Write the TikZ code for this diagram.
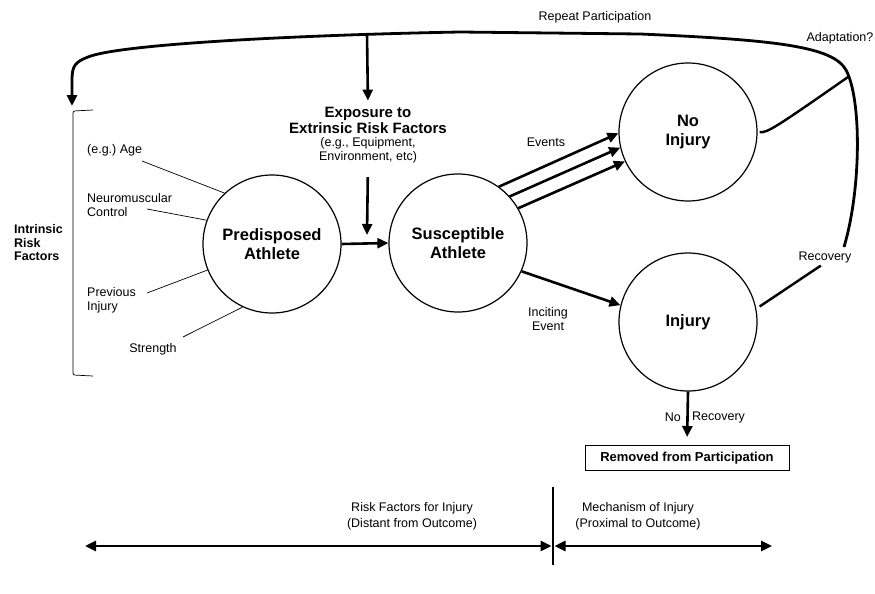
\documentclass[tikz,border=0pt]{standalone}
\usepackage{fontspec}
\setmainfont{Liberation Sans}
\usetikzlibrary{arrows.meta}
\newcommand{\smalltxt}{\fontsize{12.5}{14}\selectfont}
\newcommand{\bigbold}{\fontsize{16.5}{19}\selectfont\bfseries}

\begin{document}
\begin{tikzpicture}[x=1pt, y=-1pt,
        >={Triangle[length=11pt,width=10pt]},
        stage/.style={circle, draw, line width=1.2pt, minimum size=138pt, inner sep=0pt, align=center, font=\bigbold},
        lbl/.style={inner sep=0pt, align=left, font=\smalltxt},
        arr/.style={->, line width=2.6pt},
        link/.style={line width=2.4pt},
        feeler/.style={line width=0.7pt}]
        \useasboundingbox (0,0) rectangle (875,594);

        % the four stages
        \node[stage] (pred) at (272,244) {Predisposed\\Athlete};
        \node[stage] (susc) at (458,243) {Susceptible\\Athlete};
        \node[stage] (noinj) at (688,132) {No\\Injury};
        \node[stage] (inj) at (688,322) {Injury};
        \node[draw, line width=1pt, minimum width=204pt, minimum height=25pt, inner sep=0pt,
            font=\fontsize{13}{15}\selectfont\bfseries] (removed) at (687,458) {Removed from Participation};

        % intrinsic factors
        \node[lbl, anchor=west, font=\fontsize{12.5}{13.5}\selectfont\bfseries] (intr) at (14,243) {Intrinsic\\Risk\\Factors};
        \node[lbl, anchor=west] (age) at (87,150) {(e.g.)\ Age};
        \node[lbl, anchor=west] (neuro) at (87,205) {Neuromuscular\\Control};
        \node[lbl, anchor=west] (prev) at (87,300) {Previous\\Injury};
        \node[lbl] (stren) at (153,349) {Strength};
        \coordinate (ageA) at (142,161);
        \coordinate (neuroA) at (147,209);
        \coordinate (prevA) at (147,293);
        \coordinate (strenA) at (183,337);
        \draw[feeler] (ageA) -- (pred.133);
        \draw[feeler] (neuroA) -- (pred.160);
        \draw[feeler] (prevA) -- (pred.202);
        \draw[feeler] (strenA) -- (pred.245);
        \draw[feeler, rounded corners=2pt] (93,110) -- (73,111) -- (73,375) -- (93,376);

        % extrinsic factors
        \node[lbl, align=center, font=\fontsize{15}{16}\selectfont\bfseries] (exptitle) at (368,120) {Exposure to\\Extrinsic Risk Factors};
        \node[lbl, align=center] (expsub) at (368,150) {(e.g., Equipment,\\Environment, etc)};
        \coordinate (expend) at (367,235);
        \draw[arr, shorten <=14pt] (expsub.south) -- (expend);

        % main flow
        \draw[arr] (pred.east) -- (susc.west);
        \draw[arr] (susc.54) -- (noinj.181);
        \draw[arr] (susc.42) -- (noinj.193);
        \draw[arr] (susc.30) -- (noinj.205);
        \node[lbl] (events) at (546,142) {Events};
        \draw[arr] (susc.336) -- (inj.166);
        \node[lbl, align=center] (incite) at (548,319) {Inciting\\Event};
        \draw[arr, shorten >=8pt] (inj.south) -- (removed.north);
        \node[lbl, anchor=east] (norec1) at (681,417) {No};
        \node[lbl, anchor=west] (norec2) at (692,417) {Recovery};

        % repeat participation loop
        \coordinate (loopstart) at (844,247);
        \coordinate (looptip) at (72,106);
        \coordinate (topjoin) at (367,34);
        \coordinate (adaptjoin) at (848,77);
        \draw[arr, line width=2.8pt] (loopstart) .. controls (861,190) and (862,100) .. (846,70)
            .. controls (833,47) and (780,40) .. (640,34) -- (460,32)
            .. controls (300,35) and (120,44) .. (88,57)
            .. controls (75,62) and (72,66) .. (72,80) -- (looptip);
        \draw[arr, shorten >=6pt] (topjoin) -- (exptitle.north);
        \node[lbl] (repeat) at (595,17) {Repeat Participation};
        \node[lbl] (adapt) at (840,38) {Adaptation?};
        \draw[link, shorten <=2pt] (noinj.east) .. controls (767,133) and (775,128) .. (adaptjoin);
        \node[lbl] (recov) at (825,257) {Recovery};
        \draw[link, shorten <=4pt, shorten >=5pt] (inj.11) -- (recov.south);

        % time line
        \coordinate (divtop) at (553,487);
        \coordinate (divbot) at (553,565);
        \coordinate (tlmid) at (553,546);
        \coordinate (tlL) at (85,546);
        \coordinate (tlR) at (772,546);
        \draw[line width=2.6pt] (divtop) -- (divbot);
        \draw[<->, line width=2.6pt, shorten >=1.5pt] (tlL) -- (tlmid);
        \draw[<->, line width=2.6pt, shorten <=1.5pt] (tlmid) -- (tlR);
        \node[lbl, align=center, font=\fontsize{12.5}{16}\selectfont] (distant) at (412,516) {Risk Factors for Injury\\(Distant from Outcome)};
        \node[lbl, align=center, font=\fontsize{12.5}{16}\selectfont] (proximal) at (638,516) {Mechanism of Injury\\(Proximal to Outcome)};
\end{tikzpicture}
\end{document}
